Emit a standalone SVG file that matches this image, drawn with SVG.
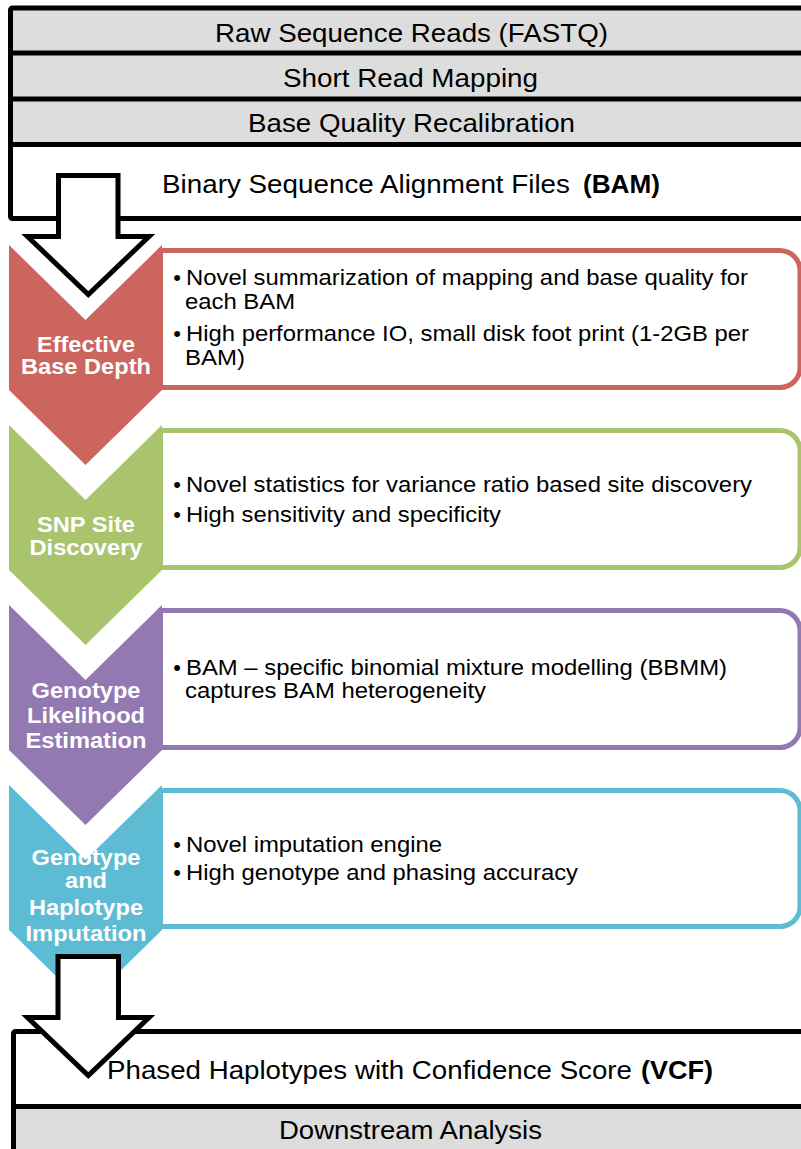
<svg xmlns="http://www.w3.org/2000/svg" width="801" height="1149" viewBox="0 0 801 1149">
<style>
.frame{fill:none;stroke:#000;stroke-width:5;stroke-linejoin:round}
.gray{fill:#dddddd}
.row{font-family:"Liberation Sans",Arial,Helvetica,sans-serif;font-size:25.5px;fill:#000}
.b{font-weight:bold}
.body{font-family:"Liberation Sans",Arial,Helvetica,sans-serif;font-size:22px;fill:#000}
.lbl{font-family:"Liberation Sans",Arial,Helvetica,sans-serif;font-size:21.5px;font-weight:bold;fill:#fff;text-anchor:middle}
.box{fill:#fff;stroke-width:5}
.arrow{fill:#fff;stroke:#000;stroke-width:5;stroke-linejoin:miter;stroke-miterlimit:10}
</style>
<rect width="801" height="1149" fill="#fff"/>

<g id="top-stack">
<rect class="gray" x="10.5" y="8" width="800" height="136.5"/>
<rect x="10.5" y="144.5" width="800" height="74" fill="#fff"/>
<line class="frame" x1="10.5" y1="53" x2="810" y2="53"/>
<line class="frame" x1="10.5" y1="99" x2="810" y2="99"/>
<line class="frame" x1="10.5" y1="144.5" x2="810" y2="144.5"/>
<rect class="frame" x="10.5" y="8" width="810" height="210.5" rx="2"/>
<text class="row" x="411.5" y="42" text-anchor="middle" textLength="393" lengthAdjust="spacingAndGlyphs">Raw Sequence Reads (FASTQ)</text>
<text class="row" x="410.5" y="87" text-anchor="middle" textLength="255" lengthAdjust="spacingAndGlyphs">Short Read Mapping</text>
<text class="row" x="411.5" y="132" text-anchor="middle" textLength="327" lengthAdjust="spacingAndGlyphs">Base Quality Recalibration</text>
<text class="row" x="162" y="193" textLength="408" lengthAdjust="spacingAndGlyphs">Binary Sequence Alignment Files</text>
<text class="row b" x="583" y="193" textLength="77" lengthAdjust="spacingAndGlyphs">(BAM)</text>
</g>

<g id="effective-base-depth">
<polygon fill="#cd655f" points="9,245 85.5,320 162,245 162,390 85.5,465 9,390"/>
<path class="box" stroke="#cd655f" d="M160.5,250.5 H780 A20,20 0 0 1 800,270.5 V367.5 A20,20 0 0 1 780,387.5 H160.5 Z"/>
<text class="lbl" x="86" y="352" textLength="98" lengthAdjust="spacingAndGlyphs">Effective</text>
<text class="lbl" x="86" y="374" textLength="130" lengthAdjust="spacingAndGlyphs">Base Depth</text>
<text class="body" x="177" y="285" text-anchor="middle">•</text>
<text class="body" x="186" y="285" textLength="562" lengthAdjust="spacingAndGlyphs">Novel summarization of mapping and base quality for</text>
<text class="body" x="185" y="309" textLength="110" lengthAdjust="spacingAndGlyphs">each BAM</text>
<text class="body" x="177" y="341" text-anchor="middle">•</text>
<text class="body" x="186" y="341" textLength="563" lengthAdjust="spacingAndGlyphs">High performance IO, small disk foot print (1-2GB per</text>
<text class="body" x="185" y="365" textLength="60" lengthAdjust="spacingAndGlyphs">BAM)</text>
</g>

<g id="snp-site-discovery">
<polygon fill="#aac46d" points="9,425 85.5,500 162,425 162,570 85.5,645 9,570"/>
<path class="box" stroke="#aac46d" d="M160.5,430.5 H780 A20,20 0 0 1 800,450.5 V547.5 A20,20 0 0 1 780,567.5 H160.5 Z"/>
<text class="lbl" x="86" y="532" textLength="98" lengthAdjust="spacingAndGlyphs">SNP Site</text>
<text class="lbl" x="86" y="555" textLength="113" lengthAdjust="spacingAndGlyphs">Discovery</text>
<text class="body" x="177" y="492" text-anchor="middle">•</text>
<text class="body" x="186" y="492" textLength="566" lengthAdjust="spacingAndGlyphs">Novel statistics for variance ratio based site discovery</text>
<text class="body" x="177" y="522" text-anchor="middle">•</text>
<text class="body" x="186" y="522" textLength="315" lengthAdjust="spacingAndGlyphs">High sensitivity and specificity</text>
</g>

<g id="genotype-likelihood-estimation">
<polygon fill="#9279b2" points="9,605 85.5,680 162,605 162,750 85.5,825 9,750"/>
<path class="box" stroke="#9279b2" d="M160.5,610.5 H780 A20,20 0 0 1 800,630.5 V727.5 A20,20 0 0 1 780,747.5 H160.5 Z"/>
<text class="lbl" x="86" y="698" textLength="109" lengthAdjust="spacingAndGlyphs">Genotype</text>
<text class="lbl" x="86" y="723" textLength="118" lengthAdjust="spacingAndGlyphs">Likelihood</text>
<text class="lbl" x="86" y="748" textLength="121" lengthAdjust="spacingAndGlyphs">Estimation</text>
<text class="body" x="177" y="675" text-anchor="middle">•</text>
<text class="body" x="186" y="675" textLength="541" lengthAdjust="spacingAndGlyphs">BAM – specific binomial mixture modelling (BBMM)</text>
<text class="body" x="185" y="698" textLength="301" lengthAdjust="spacingAndGlyphs">captures BAM heterogeneity</text>
</g>

<g id="genotype-haplotype-imputation">
<polygon fill="#5dbbd3" points="9,785 85.5,860 162,785 162,930 85.5,1005 9,930"/>
<path class="box" stroke="#5dbbd3" d="M160.5,790.5 H780 A20,20 0 0 1 800,810.5 V906.5 A20,20 0 0 1 780,926.5 H160.5 Z"/>
<text class="lbl" x="86" y="865" textLength="109" lengthAdjust="spacingAndGlyphs">Genotype</text>
<text class="lbl" x="86" y="888" textLength="42" lengthAdjust="spacingAndGlyphs">and</text>
<text class="lbl" x="86" y="915" textLength="114" lengthAdjust="spacingAndGlyphs">Haplotype</text>
<text class="lbl" x="86" y="941" textLength="121" lengthAdjust="spacingAndGlyphs">Imputation</text>
<text class="body" x="177" y="852" text-anchor="middle">•</text>
<text class="body" x="186" y="852" textLength="256" lengthAdjust="spacingAndGlyphs">Novel imputation engine</text>
<text class="body" x="177" y="880" text-anchor="middle">•</text>
<text class="body" x="186" y="880" textLength="392" lengthAdjust="spacingAndGlyphs">High genotype and phasing accuracy</text>
</g>

<g id="bottom-stack">
<rect x="13.5" y="1031.5" width="800" height="75" fill="#fff"/>
<rect class="gray" x="13.5" y="1106.5" width="800" height="50"/>
<line class="frame" x1="13.5" y1="1106.5" x2="810" y2="1106.5"/>
<rect class="frame" x="13.5" y="1031.5" width="810" height="200" rx="2"/>
<text class="row" x="107" y="1079" textLength="525" lengthAdjust="spacingAndGlyphs">Phased Haplotypes with Confidence Score</text>
<text class="row b" x="641" y="1079" textLength="72" lengthAdjust="spacingAndGlyphs">(VCF)</text>
<text class="row" x="410.5" y="1139" text-anchor="middle" textLength="263" lengthAdjust="spacingAndGlyphs">Downstream Analysis</text>
</g>

<g id="connectors">
<polygon class="arrow" points="58.5,175.5 118,175.5 118,236.5 149,236.5 88.3,294.5 27.5,236.5 58.5,236.5"/>
<polygon class="arrow" points="58,956.5 118.5,956.5 118.5,1017.5 149,1017.5 88.3,1075.5 27.5,1017.5 58,1017.5"/>
</g>
</svg>
